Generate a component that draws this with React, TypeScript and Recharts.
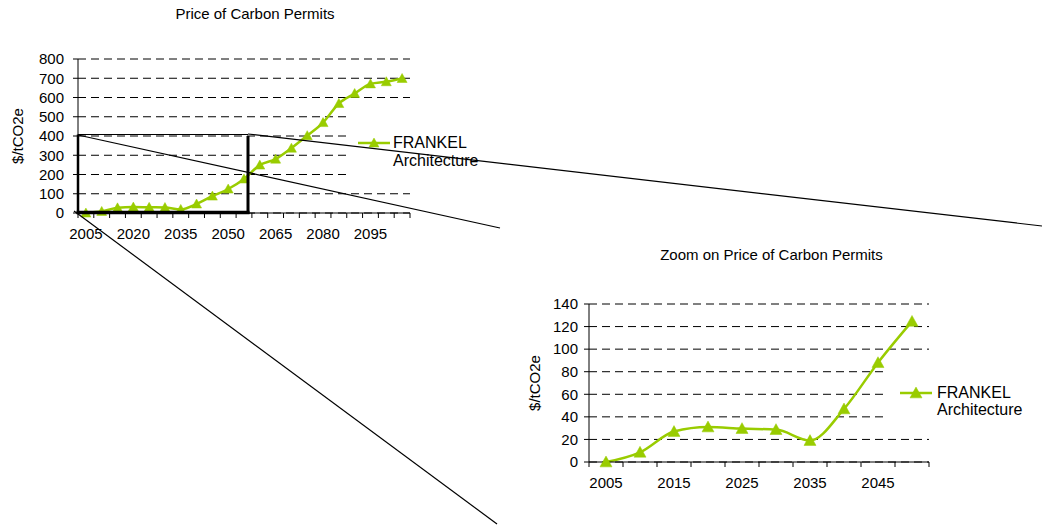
import React from "react";
import { LineChart, Line, XAxis, YAxis, CartesianGrid, Legend } from "recharts";

// values
const years = [
  2005, 2010, 2015, 2020, 2025, 2030, 2035, 2040, 2045, 2050, 2055, 2060, 2065, 2070, 2075, 2080,
  2085, 2090, 2095, 2100, 2105,
];
const prices = [
  0, 8.6, 27, 31, 29.6, 28.7, 19, 47, 88, 124.6, 177, 249, 280, 337, 402, 470, 569, 621, 671, 682, 699,
];
const zoomYears = [2005, 2010, 2015, 2020, 2025, 2030, 2035, 2040, 2045, 2050];
const zoomPrices = [0, 8.6, 27, 31, 29.6, 28.7, 19, 47, 88, 124.6];

const fullYTicks = [0, 100, 200, 300, 400, 500, 600, 700, 800];
const fullXLabels = [2005, 2020, 2035, 2050, 2065, 2080, 2095];
const zoomYTicks = [0, 20, 40, 60, 80, 100, 120, 140];
const zoomXLabels = [2005, 2015, 2025, 2035, 2045];

const seriesName = "FRANKEL Architecture";

const GREEN = "#99CC00";
const FONT = "'Liberation Sans', Arial, sans-serif";

const fullData = years.map((year, i) => ({ year, price: prices[i] }));
const zoomData = zoomYears.map((year, i) => ({ year, price: zoomPrices[i] }));

// category boundaries (Excel puts tick marks between categories)
const bounds = (ys: number[]) => [...ys.map((y) => y - 2.5), ys[ys.length - 1] + 2.5];

function Tri(props: any) {
  const { cx, cy, size } = props;
  if (cx == null || cy == null) return null;
  const h = size * 0.9;
  return (
    <polygon
      points={`${cx},${cy - h * 0.55} ${cx + size / 2},${cy + h * 0.45} ${cx - size / 2},${cy + h * 0.45}`}
      fill={GREEN}
      stroke={GREEN}
      strokeWidth={0.5}
    />
  );
}

function KeyBox(props: any) {
  const { payload, w, h, lineLeft, lineY, textLeft, textTop, lh, tri } = props;
  const name: string = payload && payload[0] ? String(payload[0].value) : seriesName;
  const parts = name.split(" ");
  return (
    <div style={{ position: "relative", width: w, height: h, background: "#fff" }}>
      <svg width={w} height={h} style={{ position: "absolute", left: 0, top: 0 }}>
        <line x1={lineLeft} x2={lineLeft + 32} y1={lineY} y2={lineY} stroke={GREEN} strokeWidth={2.5} />
        <Tri cx={lineLeft + 16} cy={lineY} size={tri} />
      </svg>
      <div
        style={{
          position: "absolute",
          left: textLeft,
          top: textTop,
          fontSize: 16,
          lineHeight: `${lh}px`,
          color: "#000",
          whiteSpace: "nowrap",
          fontFamily: FONT,
        }}
      >
        {parts[0]}
        <br />
        {parts.slice(1).join(" ")}
      </div>
    </div>
  );
}

const tickStyle = { fill: "#000", fontSize: 15, fontFamily: FONT };

export default function App() {
  const fullDomain = [years[0] - 2.5, years[years.length - 1] + 2.5];
  const zoomDomain = [zoomYears[0] - 2.5, zoomYears[zoomYears.length - 1] + 2.5];
  return (
    <div
      style={{
        position: "absolute",
        left: 0,
        top: 0,
        width: 1042,
        height: 527,
        background: "#fff",
        fontFamily: FONT,
        overflow: "hidden",
      }}
    >
      <div style={{ position: "absolute", left: 155, top: 4.5, width: 200, textAlign: "center", fontSize: 15, lineHeight: "17px" }}>
        Price of Carbon Permits
      </div>
      <div style={{ position: "absolute", left: 621.5, top: 246, width: 300, textAlign: "center", fontSize: 15, lineHeight: "17px" }}>
        Zoom on Price of Carbon Permits
      </div>

      <div style={{ position: "absolute", left: 0, top: 0 }}>
        <LineChart width={500} height={250} data={fullData} margin={{ top: 59, right: 90, bottom: 0, left: 0 }}>
          <CartesianGrid vertical={false} stroke="#000" strokeDasharray="8 5" />
          <XAxis
            dataKey="year"
            type="number"
            domain={fullDomain}
            ticks={bounds(years)}
            interval={0}
            tickFormatter={() => ""}
            tickSize={5}
            height={5}
            stroke="#000"
          />
          <XAxis
            xAxisId="lab"
            dataKey="year"
            type="number"
            domain={fullDomain}
            ticks={fullXLabels}
            interval={0}
            axisLine={false}
            tickLine={false}
            tickSize={0}
            tickMargin={10}
            height={32}
            tick={tickStyle}
          />
          <YAxis
            domain={[0, 800]}
            ticks={fullYTicks}
            interval={0}
            width={78}
            tickSize={5}
            tickMargin={9}
            stroke="#000"
            tick={tickStyle}
            label={{
              value: "$/tCO2e",
              angle: -90,
              position: "insideLeft",
              offset: 18,
              style: { textAnchor: "middle", fill: "#000", fontSize: 15, fontFamily: FONT },
            }}
          />
          <Line
            dataKey="price"
            name={seriesName}
            type="monotone"
            stroke={GREEN}
            strokeWidth={2.5}
            dot={(p: any) => <Tri key={p.index} {...p} size={10} />}
            isAnimationActive={false}
          />
          <Legend
            layout="horizontal"
            verticalAlign="middle"
            align="center"
            wrapperStyle={{ left: 347, top: 100, width: 138, height: 85 }}
            content={(p: any) => (
              <KeyBox payload={p.payload} w={138} h={85} lineLeft={11} lineY={43} textLeft={46} textTop={34.3} lh={18} tri={10} />
            )}
          />
        </LineChart>
      </div>

      <div style={{ position: "absolute", left: 500, top: 270 }}>
        <LineChart width={542} height={230} data={zoomData} margin={{ top: 34, right: 113, bottom: 0, left: 0 }}>
          <CartesianGrid vertical={false} stroke="#000" strokeDasharray="8 5" />
          <XAxis
            dataKey="year"
            type="number"
            domain={zoomDomain}
            ticks={bounds(zoomYears)}
            interval={0}
            tickFormatter={() => ""}
            tickSize={5}
            height={5}
            stroke="#000"
          />
          <XAxis
            xAxisId="lab"
            dataKey="year"
            type="number"
            domain={zoomDomain}
            ticks={zoomXLabels}
            interval={0}
            axisLine={false}
            tickLine={false}
            tickSize={0}
            tickMargin={10}
            height={33}
            tick={tickStyle}
          />
          <YAxis
            domain={[0, 140]}
            ticks={zoomYTicks}
            interval={0}
            width={89}
            tickSize={5}
            tickMargin={6}
            stroke="#000"
            tick={tickStyle}
            label={{
              value: "$/tCO2e",
              angle: -90,
              position: "insideLeft",
              offset: 35,
              style: { textAnchor: "middle", fill: "#000", fontSize: 15, fontFamily: FONT },
            }}
          />
          <Line
            dataKey="price"
            name={seriesName}
            type="monotone"
            stroke={GREEN}
            strokeWidth={2.5}
            dot={(p: any) => <Tri key={p.index} {...p} size={12} />}
            isAnimationActive={false}
          />
          <Legend
            layout="horizontal"
            verticalAlign="middle"
            align="center"
            wrapperStyle={{ left: 388, top: 90, width: 154, height: 70 }}
            content={(p: any) => (
              <KeyBox payload={p.payload} w={154} h={70} lineLeft={12} lineY={33} textLeft={49} textTop={24.3} lh={17} tri={12} />
            )}
          />
        </LineChart>
      </div>

      {/* zoom annotation drawn over the charts */}
      <svg width={1042} height={527} style={{ position: "absolute", left: 0, top: 0, pointerEvents: "none" }}>
        <line x1={78} y1={134.5} x2={248} y2={134.5} stroke="#000" strokeWidth={1.2} />
        <line x1={78} y1={134.5} x2={78} y2={213} stroke="#000" strokeWidth={2.5} />
        <line x1={76.5} y1={212.5} x2={249.5} y2={212.5} stroke="#000" strokeWidth={3.5} />
        <line x1={248} y1={136} x2={248} y2={214} stroke="#000" strokeWidth={3} />
        <line x1={78} y1={135} x2={500} y2={228} stroke="#000" strokeWidth={1.2} />
        <line x1={248} y1={134} x2={1042} y2={226} stroke="#000" strokeWidth={1.2} />
        <line x1={74} y1={211} x2={497} y2={524} stroke="#000" strokeWidth={1.2} />
      </svg>
    </div>
  );
}
